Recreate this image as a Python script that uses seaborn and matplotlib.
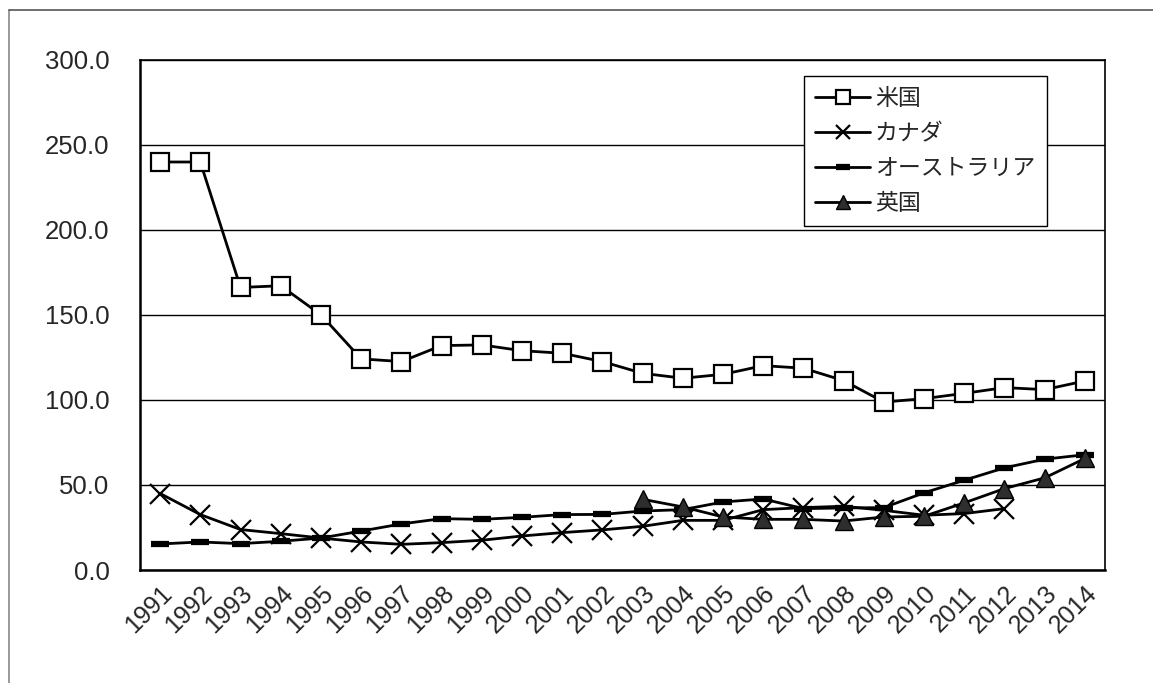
import matplotlib
matplotlib.use('Agg')
import matplotlib.pyplot as plt
from matplotlib.lines import Line2D
from matplotlib.ticker import FixedLocator, FormatStrFormatter
import seaborn as sns

# Years on the x axis
years = list(range(1991, 2015))

# Series values
usa = [240.0, 240.0, 166.2, 167.2, 150.1, 124.2, 122.6, 132.0, 132.4, 129.0, 127.5, 122.6,
       115.7, 112.8, 115.1, 120.2, 118.7, 111.4, 98.8, 100.8, 103.9, 107.3, 106.1, 111.2]

canada_years = list(range(1991, 2013))
canada = [45.0, 32.6, 23.8, 21.4, 18.8, 16.5, 15.1, 16.1, 17.5, 20.0, 22.0, 23.6,
          25.7, 29.2, 29.2, 35.5, 36.7, 37.5, 35.1, 32.2, 33.2, 36.1]

australia = [15.3, 16.5, 15.5, 16.9, 18.8, 22.9, 27.1, 30.2, 29.8, 31.0, 32.6, 32.7,
             34.7, 35.5, 40.0, 41.8, 36.1, 36.5, 36.7, 45.4, 52.8, 60.1, 65.2, 67.8]

uk_years = list(range(2003, 2015))
uk = [41.6, 37.1, 31.2, 29.8, 29.8, 28.8, 31.2, 31.6, 39.5, 47.9, 54.2, 65.6]

labels = ['米国', 'カナダ', 'オーストラリア', '英国']
y_ticks = [0, 50, 100, 150, 200, 250, 300]

sns.set_style('white')
plt.rcParams['font.family'] = ['Liberation Sans', 'Noto Sans CJK JP', 'DejaVu Sans']

fig = plt.figure(figsize=(11.53, 6.83), dpi=100)
ax = fig.add_axes([140 / 1153, 1 - 570 / 683, 965 / 1153, 510 / 683])

line_kw = dict(color='black', linewidth=2)

sns.lineplot(x=years, y=usa, marker='s', markersize=13, markerfacecolor='white',
             markeredgecolor='black', markeredgewidth=1.6, label=labels[0], ax=ax, **line_kw)
sns.lineplot(x=canada_years, y=canada, marker='x', markersize=14,
             markeredgecolor='black', markeredgewidth=1.6, label=labels[1], ax=ax, **line_kw)
sns.lineplot(x=years, y=australia, marker='_', markersize=13,
             markeredgecolor='black', markeredgewidth=4.5, label=labels[2], ax=ax, **line_kw)
sns.lineplot(x=uk_years, y=uk, marker='^', markersize=13, markerfacecolor='#2e2e2e',
             markeredgecolor='black', markeredgewidth=1, label=labels[3], ax=ax, **line_kw)

# Axes limits and ticks
ax.set_xlim(years[0] - 0.5, years[-1] + 0.5)
ax.set_ylim(0, 300)
ax.set_xticks(years)
ax.set_xticklabels([str(y) for y in years], rotation=45, ha='right',
                   rotation_mode='anchor', fontsize=18)
ax.xaxis.set_minor_locator(FixedLocator([y + 0.5 for y in years[:-1]]))
ax.tick_params(axis='x', which='major', length=0, pad=8)
ax.tick_params(axis='x', which='minor', direction='in', length=7, width=1, color='black')
ax.set_yticks(y_ticks)
ax.yaxis.set_major_formatter(FormatStrFormatter('%.1f'))
ax.tick_params(axis='y', length=0, labelsize=18.5, pad=22)
ax.yaxis.grid(True, color='black', linewidth=1)
ax.xaxis.grid(False)
ax.set_xlabel('')
ax.set_ylabel('')

for side in ['left', 'bottom']:
    ax.spines[side].set_linewidth(1.8)
for side in ['top', 'right']:
    ax.spines[side].set_linewidth(1.2)
for spine in ax.spines.values():
    spine.set_color('black')

leg = ax.legend(loc='upper left', bbox_to_anchor=(0.688, 0.969), borderaxespad=0,
                fancybox=False, edgecolor='black', framealpha=1, fontsize=16.5,
                handlelength=2.4, labelspacing=0.52, markerscale=0.75,
                borderpad=0.5, handletextpad=0.2)
leg.get_frame().set_linewidth(1.0)

# Outer frame lines of the picture
fig.add_artist(Line2D([9 / 1153, 9 / 1153], [0, 1 - 10 / 683], color='#888888', linewidth=1.2))
fig.add_artist(Line2D([9 / 1153, 1], [1 - 10 / 683, 1 - 10 / 683], color='#555555', linewidth=1.2))

fig.savefig('out.png', dpi=100)
